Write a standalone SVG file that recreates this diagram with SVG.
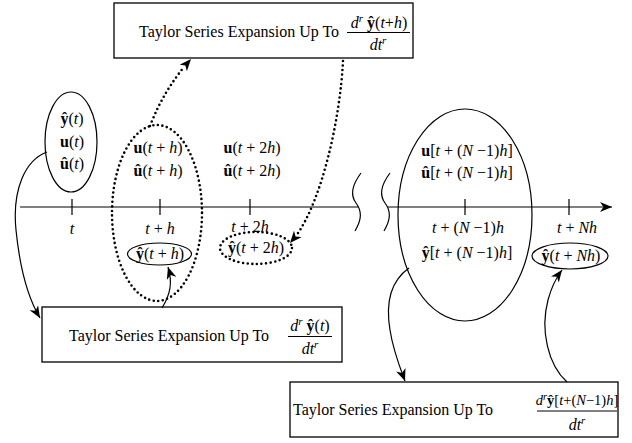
<svg xmlns="http://www.w3.org/2000/svg" width="632" height="443" viewBox="0 0 632 443">
<style>
text{font-family:"Liberation Serif","Times New Roman",serif;font-size:16px;fill:#000}
.i{font-style:italic}
.b{font-weight:bold}
.sup{font-style:italic;font-size:11px}
.c{text-anchor:middle}
.ln{fill:none;stroke:#000;stroke-width:1.2}
.box{fill:#fff;stroke:#000;stroke-width:1.3}
.dot{fill:none;stroke:#000;stroke-width:2.6;stroke-linecap:round;stroke-dasharray:0 4.6}
</style>
<defs>
<marker id="ah" markerUnits="userSpaceOnUse" markerWidth="14" markerHeight="10" refX="12" refY="5" orient="auto">
<path d="M0,0 L12,5 L0,10 L3.5,5 z" fill="#000"/>
</marker>
</defs>

<g id="axis">
<path class="ln" d="M20,207 H358"/>
<path class="ln" d="M388,207 H612" marker-end="url(#ah)"/>
<path class="ln" d="M361,173 C352,185 350,195 356,203 C362,211 362,219 355,231"/>
<path class="ln" d="M390,173 C381,185 379,195 385,203 C391,211 391,219 384,231"/>
<path class="ln" d="M72,199 V215 M160,199 V215 M250,199 V215 M465,199 V215 M569,199 V215"/>
</g>

<g id="node-t">
<ellipse class="ln" cx="71" cy="142" rx="26" ry="50"/>
<text class="c" x="72" y="124"><tspan class="b">ŷ</tspan>(<tspan class="i">t</tspan>)</text>
<text class="c" x="72" y="147"><tspan class="b">u</tspan>(<tspan class="i">t</tspan>)</text>
<text class="c" x="72" y="169"><tspan class="b">û</tspan>(<tspan class="i">t</tspan>)</text>
<text class="c i" x="72" y="234">t</text>
</g>

<g id="node-th">
<ellipse class="dot" cx="157" cy="213" rx="45" ry="88"/>
<text class="c" x="158" y="153"><tspan class="b">u</tspan>(<tspan class="i">t</tspan> + <tspan class="i">h</tspan>)</text>
<text class="c" x="158" y="176"><tspan class="b">û</tspan>(<tspan class="i">t</tspan> + <tspan class="i">h</tspan>)</text>
<text class="c" x="160" y="234"><tspan class="i">t</tspan> + <tspan class="i">h</tspan></text>
<ellipse class="ln" cx="159.5" cy="254" rx="32" ry="11"/>
<text class="c" x="160" y="259"><tspan class="b">ŷ</tspan>(<tspan class="i">t</tspan> + <tspan class="i">h</tspan>)</text>
</g>

<g id="node-t2h">
<text class="c" x="252" y="153"><tspan class="b">u</tspan>(<tspan class="i">t</tspan> + 2<tspan class="i">h</tspan>)</text>
<text class="c" x="252" y="176"><tspan class="b">û</tspan>(<tspan class="i">t</tspan> + 2<tspan class="i">h</tspan>)</text>
<text class="c" x="250" y="232"><tspan class="i">t</tspan> + 2<tspan class="i">h</tspan></text>
<ellipse class="dot" cx="256" cy="248" rx="36" ry="16"/>
<text class="c" x="256" y="253"><tspan class="b">ŷ</tspan>(<tspan class="i">t</tspan> + 2<tspan class="i">h</tspan>)</text>
</g>

<g id="node-tN1h">
<ellipse class="ln" cx="465" cy="215" rx="67" ry="106"/>
<text class="c" x="467" y="156"><tspan class="b">u</tspan>[<tspan class="i">t</tspan> + (<tspan class="i">N</tspan> −1)<tspan class="i">h</tspan>]</text>
<text class="c" x="467" y="178"><tspan class="b">û</tspan>[<tspan class="i">t</tspan> + (<tspan class="i">N</tspan> −1)<tspan class="i">h</tspan>]</text>
<text class="c" x="468" y="233"><tspan class="i">t</tspan> + (<tspan class="i">N</tspan> −1)<tspan class="i">h</tspan></text>
<text class="c" x="467" y="258"><tspan class="b">ŷ</tspan>[<tspan class="i">t</tspan> + (<tspan class="i">N</tspan> −1)<tspan class="i">h</tspan>]</text>
</g>

<g id="node-tNh">
<text class="c" x="577" y="233"><tspan class="i">t</tspan> + <tspan class="i">Nh</tspan></text>
<ellipse class="ln" cx="570" cy="256" rx="38" ry="13"/>
<text class="c" x="571" y="261"><tspan class="b">ŷ</tspan>(<tspan class="i">t</tspan> + <tspan class="i">Nh</tspan>)</text>
</g>

<g id="box-top">
<rect class="box" x="114" y="3" width="299" height="55"/>
<text x="139" y="37">Taylor Series Expansion Up To</text>
<text class="c" x="379" y="28"><tspan class="i">d</tspan><tspan class="sup" dy="-6">r</tspan><tspan class="b" dy="6"> ŷ</tspan>(<tspan class="i">t</tspan>+<tspan class="i">h</tspan>)</text>
<path class="ln" d="M347,32.5 H410"/>
<text class="c" x="378" y="50"><tspan class="i">dt</tspan><tspan class="sup" dy="-6">r</tspan></text>
</g>

<g id="box-left">
<rect class="box" x="42" y="307" width="300" height="55"/>
<text x="69" y="341">Taylor Series Expansion Up To</text>
<text class="c" x="310" y="331"><tspan class="i">d</tspan><tspan class="sup" dy="-6">r</tspan><tspan class="b" dy="6"> ŷ</tspan>(<tspan class="i">t</tspan>)</text>
<path class="ln" d="M288,336.5 H332"/>
<text class="c" x="310" y="354"><tspan class="i">dt</tspan><tspan class="sup" dy="-6">r</tspan></text>
</g>

<g id="box-right">
<rect class="box" x="290" y="382" width="328" height="55"/>
<text x="293" y="415">Taylor Series Expansion Up To</text>
<text class="c" x="577" y="405" style="font-size:14.5px"><tspan class="i">d</tspan><tspan class="sup" dy="-5" style="font-size:10.5px">r</tspan><tspan class="b" dy="5">ŷ</tspan>[<tspan class="i">t</tspan>+(<tspan class="i">N</tspan>−1)<tspan class="i">h</tspan>]</text>
<path class="ln" d="M537,411 H617"/>
<text class="c" x="577" y="430"><tspan class="i">dt</tspan><tspan class="sup" dy="-6">r</tspan></text>
</g>

<g id="connectors">
<path class="dot" d="M150,126 C160,100 172,82 184,67"/>
<path d="M184,67 L191,59" marker-end="url(#ah)" stroke="none" fill="none"/>
<path class="dot" d="M343,61 C340,120 322,200 296,236"/>
<path d="M296,236 L290,243" marker-end="url(#ah)" stroke="none" fill="none"/>
<path class="ln" d="M47,152 C25,160 12,190 16,230 C20,270 28,298 40,318" marker-end="url(#ah)"/>
<path class="ln" d="M162,308 C170,295 173,283 168,267" marker-end="url(#ah)"/>
<path class="ln" d="M409,268 C392,280 385,300 390,330 C393,350 399,365 405,381" marker-end="url(#ah)"/>
<path class="ln" d="M567,382 C548,365 540,330 548,300 C552,285 556,278 562,270" marker-end="url(#ah)"/>
</g>
</svg>
